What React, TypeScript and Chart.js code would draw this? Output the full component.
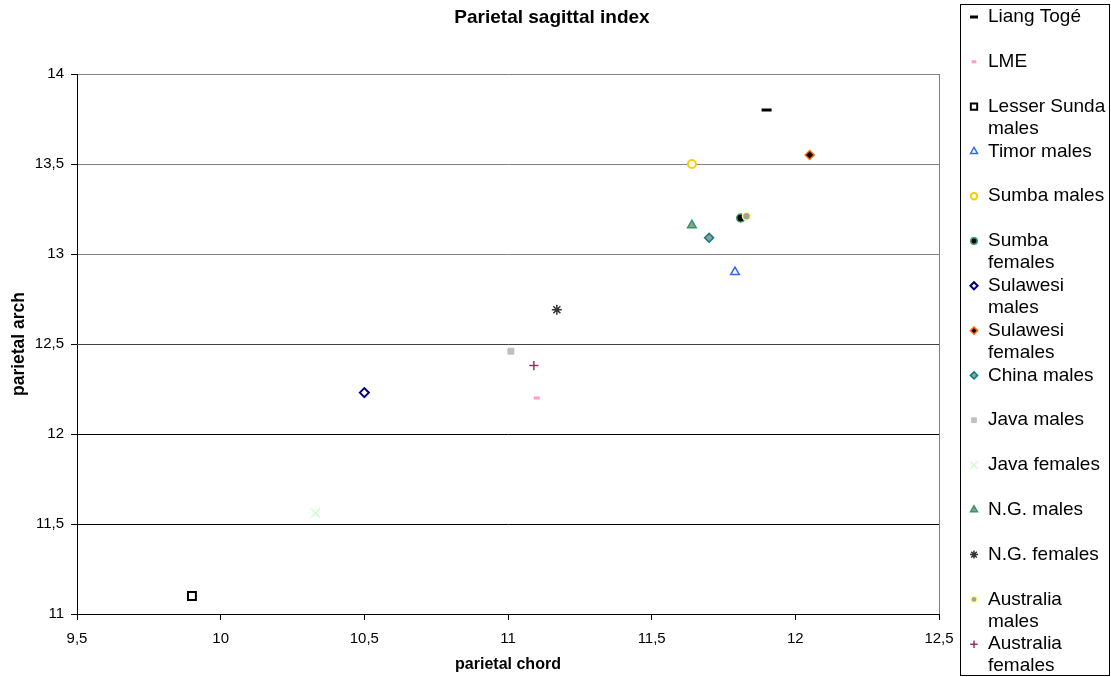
import React, { useEffect, useRef } from 'react';
import { Chart, registerables } from 'chart.js';
import { drawPoint } from 'chart.js/helpers';

Chart.register(...registerables);

const FONT = '"Liberation Sans", Arial, sans-serif';

const chartTitle = 'Parietal sagittal index';
const xTitle = 'parietal chord';
const yTitle = 'parietal arch';

const seriesNames = [
  'Liang Togé',
  'LME',
  'Lesser Sunda males',
  'Timor males',
  'Sumba males',
  'Sumba females',
  'Sulawesi males',
  'Sulawesi females',
  'China males',
  'Java males',
  'Java females',
  'N.G. males',
  'N.G. females',
  'Australia males',
  'Australia females',
];

const legendLabels = [
  ['Liang Togé'],
  ['LME'],
  ['Lesser Sunda', 'males'],
  ['Timor males'],
  ['Sumba males'],
  ['Sumba', 'females'],
  ['Sulawesi', 'males'],
  ['Sulawesi', 'females'],
  ['China males'],
  ['Java males'],
  ['Java females'],
  ['N.G. males'],
  ['N.G. females'],
  ['Australia', 'males'],
  ['Australia', 'females'],
];

// parietal chord (x)
const chordValues = [11.9, 11.1, 9.9, 11.79, 11.64, 11.81, 10.5, 12.05, 11.7, 11.01, 10.33, 11.64, 11.17, 11.83, 11.09];
// parietal arch (y)
const archValues = [13.8, 12.2, 11.1, 12.9, 13.5, 13.2, 12.23, 13.55, 13.09, 12.46, 11.56, 13.16, 12.69, 13.21, 12.38];

const xMin = 9.5;
const xMax = 12.5;
const yMin = 11;
const yMax = 14;
const tickStep = 0.5;

type MarkerStyle = { style: string; radius: number; bw: number; border: string; fill: string };

const markerStyles: MarkerStyle[] = [
  { style: 'line', radius: 5, bw: 3, border: '#000000', fill: '#000000' },
  { style: 'line', radius: 3, bw: 3, border: '#FF99CC', fill: '#FF99CC' },
  { style: 'rect', radius: 5.6, bw: 2, border: '#000000', fill: '#FFFFFF' },
  { style: 'triangle', radius: 5, bw: 1.5, border: '#3366FF', fill: '#FFFFFF' },
  { style: 'circle', radius: 4, bw: 2, border: '#FFCC00', fill: '#FFFFFF' },
  { style: 'circle', radius: 4, bw: 1.5, border: '#339966', fill: '#000000' },
  { style: 'rectRot', radius: 4.5, bw: 2, border: '#000080', fill: '#FFFFFF' },
  { style: 'rectRot', radius: 4.5, bw: 1.5, border: '#FF6600', fill: '#000000' },
  { style: 'rectRot', radius: 4.5, bw: 1.5, border: '#008080', fill: '#999999' },
  { style: 'rect', radius: 4.2, bw: 1, border: '#C0C0C0', fill: '#C0C0C0' },
  { style: 'crossRot', radius: 6.2, bw: 1.5, border: '#CCFFCC', fill: '#CCFFCC' },
  { style: 'triangle', radius: 5, bw: 1.5, border: '#339966', fill: '#999999' },
  { style: 'star', radius: 5, bw: 1.5, border: '#333333', fill: '#333333' },
  { style: 'circle', radius: 4, bw: 1.5, border: '#FFFF99', fill: '#A0A0A0' },
  { style: 'cross', radius: 4.6, bw: 1.5, border: '#993366', fill: '#993366' },
];

const fmt = (v: number) => String(v).replace('.', ',');

const sideLegend = {
  id: 'sideLegend',
  afterDraw(chart: any) {
    const ctx = chart.ctx as CanvasRenderingContext2D;
    ctx.save();
    // chart title
    ctx.fillStyle = '#000000';
    ctx.font = 'bold 19px ' + FONT;
    ctx.textAlign = 'center';
    ctx.textBaseline = 'middle';
    ctx.fillText(chartTitle, 552, 18);
    // legend box
    ctx.strokeStyle = '#000000';
    ctx.lineWidth = 1;
    ctx.strokeRect(960.5, 4.5, 149, 671);
    ctx.font = '19px ' + FONT;
    ctx.textBaseline = 'middle';
    ctx.textAlign = 'left';
    legendLabels.forEach((lines, i) => {
      const y = 17 + i * 44.8;
      const st = markerStyles[i];
      ctx.fillStyle = st.fill;
      ctx.strokeStyle = st.border;
      ctx.lineWidth = st.bw;
      drawPoint(ctx, { pointStyle: st.style as any, radius: st.radius * 0.8, borderWidth: st.bw, rotation: 0 }, 974, y);
      ctx.fillStyle = '#000000';
      lines.forEach((t, k) => ctx.fillText(t, 988, y + k * 22));
    });
    ctx.restore();
  },
};

const plotFrame = {
  id: 'plotFrame',
  beforeDatasetsDraw(chart: any) {
    const { ctx, chartArea } = chart;
    ctx.save();
    ctx.strokeStyle = '#808080';
    ctx.lineWidth = 1;
    const x = Math.round(chartArea.right) + 0.5;
    ctx.beginPath();
    ctx.moveTo(x, chartArea.top);
    ctx.lineTo(x, chartArea.bottom);
    ctx.stroke();
    ctx.restore();
  },
};

export default function App() {
  const ref = useRef<HTMLCanvasElement>(null);
  useEffect(() => {
    const canvas = ref.current;
    if (!canvas) return;
    const datasets = seriesNames.map((name, i) => ({
      label: name,
      data: [{ x: chordValues[i], y: archValues[i] }],
      pointStyle: markerStyles[i].style as any,
      pointRadius: markerStyles[i].radius,
      pointHoverRadius: markerStyles[i].radius,
      pointBorderWidth: markerStyles[i].bw,
      pointBorderColor: markerStyles[i].border,
      pointBackgroundColor: markerStyles[i].fill,
      borderColor: markerStyles[i].border,
      backgroundColor: markerStyles[i].fill,
      order: -i,
    }));
    const chart = new Chart(canvas, {
      type: 'scatter',
      data: { datasets },
      plugins: [plotFrame, sideLegend],
      options: {
        animation: false,
        responsive: false,
        devicePixelRatio: 1,
        font: { family: FONT },
        layout: { padding: { left: 0, right: 172, top: 74, bottom: 0 } },
        plugins: {
          legend: { display: false },
          tooltip: { enabled: false },
          title: { display: false },
        },
        scales: {
          x: {
            type: 'linear',
            min: xMin,
            max: xMax,
            afterFit: (s: any) => { s.height = 63; },
            ticks: {
              stepSize: tickStep,
              color: '#000000',
              padding: 10,
              font: { family: FONT, size: 15 },
              callback: (v: any) => fmt(Number(v)),
            },
            grid: {
              drawOnChartArea: false,
              drawTicks: true,
              tickLength: 6,
              color: '#000000',
            },
            border: { display: true, color: '#000000', width: 1 },
            title: {
              display: true,
              text: xTitle,
              color: '#000000',
              font: { family: FONT, size: 16, weight: 'bold' },
              padding: { top: 0, bottom: 2.4 },
            },
          },
          y: {
            type: 'linear',
            min: yMin,
            max: yMax,
            afterFit: (s: any) => { s.width = 77; },
            ticks: {
              stepSize: tickStep,
              color: '#000000',
              padding: 7,
              font: { family: FONT, size: 15 },
              callback: (v: any) => fmt(Number(v)),
            },
            grid: {
              drawOnChartArea: true,
              drawTicks: true,
              tickLength: 6,
              tickColor: '#000000',
              color: (c: any) => {
                const v = c.tick ? c.tick.value : 0;
                if (v >= 13) return '#808080';
                if (v >= 12.5) return '#404040';
                return '#000000';
              },
            },
            border: { display: true, color: '#000000', width: 1 },
            title: {
              display: true,
              text: yTitle,
              color: '#000000',
              font: { family: FONT, size: 17.5, weight: 'bold' },
              padding: { top: 8.5, bottom: 0 },
            },
          },
        },
      } as any,
    });
    return () => chart.destroy();
  }, []);
  return (
    <div style={{ position: 'absolute', left: 0, top: 0, width: 1111, height: 677, background: '#ffffff' }}>
      <canvas ref={ref} width={1111} height={677} style={{ display: 'block' }} />
    </div>
  );
}
